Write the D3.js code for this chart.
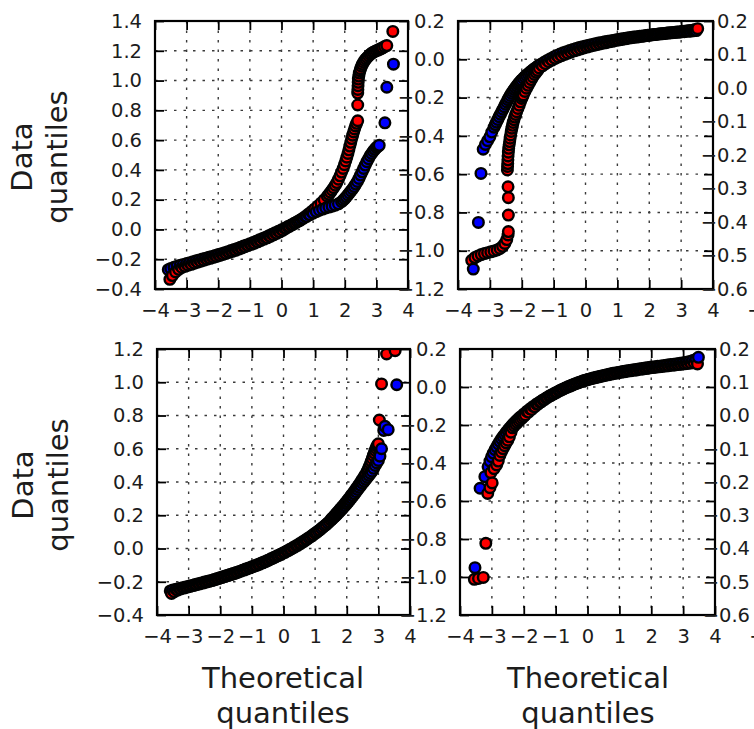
<html>
<head>
<meta charset="utf-8">
<script src="https://d3js.org/d3.v7.min.js"></script>
<style>
  body { margin: 0; background: white; }
  text { font-family: "DejaVu Sans", sans-serif; }
</style>
</head>
<body>
<script>

// ---- data: [theoretical quantile, data quantile] ----

var xTicks = [-4, -3, -2, -1, 0, 1, 2, 3, 4];
var xTicksThird = [-4];
var yTicksTopLeft = [-0.4, -0.2, 0.0, 0.2, 0.4, 0.6, 0.8, 1.0, 1.2, 1.4];
var yTicksBottomLeft = [-0.4, -0.2, 0.0, 0.2, 0.4, 0.6, 0.8, 1.0, 1.2];
var yTicksRight = [0.2, 0.0, -0.2, -0.4, -0.6, -0.8, -1.0, -1.2];
var yTicksThird = [0.2, 0.1, 0.0, -0.1, -0.2, -0.3, -0.4, -0.5, -0.6];

var tlBlue = [[-3.58,-0.27],[-3.5,-0.262],[-3.4,-0.254],[-3.3,-0.247],[-3.2,-0.241],[-3.1,-0.235],[-3.0,-0.229],[-2.9,-0.223],[-2.8,-0.217],[-2.7,-0.211],[-2.6,-0.205],[-2.5,-0.199],[-2.4,-0.193],[-2.3,-0.187],[-2.2,-0.181],[-2.1,-0.175],[-2.0,-0.169],[-1.9,-0.163],[-1.8,-0.156],[-1.7,-0.149],[-1.6,-0.142],[-1.5,-0.135],[-1.4,-0.128],[-1.3,-0.12],[-1.2,-0.112],[-1.1,-0.104],[-1.0,-0.096],[-0.9,-0.088],[-0.8,-0.079],[-0.7,-0.07],[-0.6,-0.061],[-0.5,-0.052],[-0.4,-0.042],[-0.3,-0.032],[-0.2,-0.022],[-0.1,-0.012],[0.0,-0.002],[0.1,0.008],[0.2,0.019],[0.3,0.03],[0.4,0.041],[0.5,0.052],[0.6,0.063],[0.7,0.075],[0.8,0.087],[0.9,0.099],[1.0,0.11],[1.1,0.12],[1.2,0.129],[1.3,0.137],[1.4,0.144],[1.5,0.15],[1.6,0.156],[1.7,0.163],[1.8,0.172],[1.9,0.186],[1.95,0.196],[2.0,0.207],[2.05,0.219],[2.1,0.232],[2.15,0.245],[2.2,0.259],[2.25,0.273],[2.3,0.288],[2.35,0.305],[2.4,0.322],[2.45,0.343],[2.5,0.365],[2.55,0.387],[2.6,0.41],[2.65,0.432],[2.7,0.455],[2.75,0.475],[2.8,0.495],[2.85,0.51],[2.9,0.525],[2.95,0.538],[3.0,0.55],[3.045,0.558],[3.09,0.565],[3.27,0.716],[3.33,0.955],[3.54,1.11]];
var tlRed = [[-3.53,-0.335],[-3.45,-0.31],[-3.35,-0.285],[-3.25,-0.268],[-3.15,-0.255],[-3.05,-0.248],[-2.95,-0.24],[-2.85,-0.234],[-2.75,-0.227],[-2.65,-0.22],[-2.55,-0.213],[-2.45,-0.207],[-2.35,-0.2],[-2.25,-0.194],[-2.15,-0.187],[-2.05,-0.181],[-1.95,-0.175],[-1.85,-0.168],[-1.75,-0.161],[-1.65,-0.154],[-1.55,-0.147],[-1.45,-0.14],[-1.35,-0.132],[-1.25,-0.124],[-1.15,-0.116],[-1.05,-0.108],[-0.95,-0.1],[-0.85,-0.092],[-0.75,-0.083],[-0.65,-0.074],[-0.55,-0.065],[-0.45,-0.056],[-0.35,-0.046],[-0.25,-0.036],[-0.15,-0.026],[-0.05,-0.016],[0.05,-0.005],[0.15,0.008],[0.25,0.02],[0.35,0.032],[0.45,0.045],[0.55,0.058],[0.65,0.072],[0.75,0.087],[0.85,0.103],[0.95,0.12],[1.05,0.138],[1.15,0.157],[1.25,0.177],[1.35,0.199],[1.45,0.223],[1.5,0.236],[1.55,0.25],[1.6,0.265],[1.65,0.28],[1.7,0.297],[1.75,0.315],[1.8,0.337],[1.85,0.36],[1.9,0.385],[1.95,0.41],[1.99,0.435],[2.03,0.46],[2.065,0.485],[2.1,0.51],[2.13,0.535],[2.16,0.56],[2.19,0.585],[2.22,0.61],[2.25,0.633],[2.28,0.655],[2.31,0.675],[2.34,0.695],[2.375,0.713],[2.41,0.73],[2.41,0.836],[2.41,0.916],[2.415,0.94],[2.42,0.965],[2.425,0.988],[2.43,1.01],[2.445,1.03],[2.46,1.05],[2.48,1.066],[2.5,1.08],[2.53,1.096],[2.56,1.11],[2.595,1.123],[2.63,1.135],[2.67,1.145],[2.71,1.155],[2.755,1.165],[2.8,1.175],[2.85,1.183],[2.9,1.19],[2.95,1.195],[3.0,1.2],[3.05,1.205],[3.1,1.21],[3.15,1.215],[3.2,1.22],[3.26,1.228],[3.33,1.235],[3.52,1.33]];

var trBlue = [[-3.52,-1.096],[-3.36,-0.852],[-3.28,-0.596],[-3.21,-0.47],[-3.14,-0.445],[-3.07,-0.425],[-3.0,-0.405],[-2.94,-0.38],[-2.87,-0.355],[-2.83,-0.341],[-2.79,-0.328],[-2.75,-0.314],[-2.71,-0.3],[-2.67,-0.287],[-2.63,-0.274],[-2.59,-0.261],[-2.55,-0.248],[-2.51,-0.235],[-2.47,-0.223],[-2.435,-0.211],[-2.4,-0.2],[-2.36,-0.189],[-2.32,-0.178],[-2.28,-0.168],[-2.24,-0.158],[-2.2,-0.149],[-2.16,-0.14],[-2.12,-0.131],[-2.08,-0.123],[-2.04,-0.115],[-2.0,-0.108],[-1.95,-0.099],[-1.9,-0.091],[-1.85,-0.083],[-1.8,-0.076],[-1.75,-0.069],[-1.7,-0.062],[-1.65,-0.055],[-1.6,-0.049],[-1.55,-0.043],[-1.5,-0.037],[-1.45,-0.031],[-1.4,-0.026],[-1.3,-0.016],[-1.2,-0.006],[-1.1,0.003],[-1.0,0.012],[-0.9,0.02],[-0.8,0.027],[-0.7,0.034],[-0.6,0.04],[-0.5,0.046],[-0.4,0.051],[-0.3,0.056],[-0.2,0.061],[-0.1,0.065],[0.0,0.069],[0.1,0.073],[0.2,0.077],[0.3,0.081],[0.4,0.085],[0.5,0.088],[0.6,0.091],[0.7,0.094],[0.8,0.097],[0.9,0.1],[1.0,0.103],[1.1,0.106],[1.2,0.109],[1.3,0.111],[1.4,0.114],[1.5,0.116],[1.6,0.118],[1.7,0.12],[1.8,0.122],[1.9,0.124],[2.0,0.126],[2.1,0.128],[2.2,0.13],[2.3,0.132],[2.4,0.133],[2.5,0.135],[2.6,0.137],[2.7,0.138],[2.8,0.14],[2.9,0.141],[3.0,0.143],[3.1,0.144],[3.2,0.146],[3.3,0.147],[3.4,0.149],[3.48,0.15]];
var trRed = [[-3.57,-1.05],[-3.47,-1.036],[-3.37,-1.027],[-3.27,-1.02],[-3.17,-1.015],[-3.07,-1.01],[-2.97,-1.006],[-2.87,-1.001],[-2.77,-0.996],[-2.68,-0.988],[-2.6,-0.977],[-2.53,-0.962],[-2.47,-0.942],[-2.43,-0.918],[-2.42,-0.9],[-2.42,-0.814],[-2.42,-0.723],[-2.43,-0.666],[-2.45,-0.578],[-2.445,-0.56],[-2.44,-0.545],[-2.435,-0.525],[-2.43,-0.505],[-2.42,-0.485],[-2.41,-0.465],[-2.395,-0.447],[-2.38,-0.43],[-2.365,-0.412],[-2.35,-0.395],[-2.33,-0.377],[-2.31,-0.36],[-2.29,-0.345],[-2.27,-0.33],[-2.245,-0.316],[-2.22,-0.302],[-2.19,-0.288],[-2.16,-0.274],[-2.12,-0.257],[-2.08,-0.24],[-2.04,-0.222],[-2.0,-0.205],[-1.975,-0.195],[-1.95,-0.186],[-1.9,-0.168],[-1.85,-0.151],[-1.8,-0.136],[-1.75,-0.121],[-1.7,-0.106],[-1.65,-0.092],[-1.6,-0.079],[-1.55,-0.068],[-1.5,-0.058],[-1.45,-0.045],[-1.35,-0.034],[-1.25,-0.023],[-1.15,-0.013],[-1.05,-0.004],[-0.95,0.005],[-0.85,0.012],[-0.75,0.019],[-0.65,0.026],[-0.55,0.032],[-0.45,0.038],[-0.35,0.044],[-0.25,0.049],[-0.15,0.054],[-0.05,0.059],[0.05,0.064],[0.15,0.068],[0.25,0.072],[0.35,0.076],[0.45,0.08],[0.55,0.084],[0.65,0.087],[0.75,0.091],[0.85,0.094],[0.95,0.098],[1.05,0.101],[1.15,0.104],[1.25,0.107],[1.35,0.11],[1.45,0.113],[1.55,0.115],[1.65,0.117],[1.75,0.12],[1.85,0.122],[1.95,0.125],[2.05,0.127],[2.15,0.129],[2.25,0.131],[2.35,0.133],[2.45,0.135],[2.55,0.137],[2.65,0.139],[2.75,0.14],[2.85,0.142],[2.95,0.144],[3.05,0.146],[3.15,0.148],[3.25,0.15],[3.35,0.152],[3.44,0.155],[3.52,0.16]];

var blBlue = [[-3.58,-0.255],[-3.5,-0.25],[-3.4,-0.245],[-3.3,-0.24],[-3.2,-0.236],[-3.1,-0.232],[-3.0,-0.227],[-2.9,-0.222],[-2.8,-0.217],[-2.7,-0.212],[-2.6,-0.207],[-2.5,-0.202],[-2.4,-0.197],[-2.3,-0.192],[-2.2,-0.187],[-2.1,-0.181],[-2.0,-0.175],[-1.9,-0.169],[-1.8,-0.163],[-1.7,-0.157],[-1.6,-0.151],[-1.5,-0.145],[-1.4,-0.138],[-1.3,-0.131],[-1.2,-0.124],[-1.1,-0.117],[-1.0,-0.11],[-0.9,-0.103],[-0.8,-0.095],[-0.7,-0.087],[-0.6,-0.079],[-0.5,-0.071],[-0.4,-0.062],[-0.3,-0.053],[-0.2,-0.044],[-0.1,-0.035],[0.0,-0.025],[0.1,-0.015],[0.2,-0.005],[0.3,0.006],[0.4,0.017],[0.5,0.028],[0.6,0.04],[0.7,0.052],[0.8,0.065],[0.9,0.078],[1.0,0.092],[1.1,0.106],[1.2,0.121],[1.3,0.137],[1.4,0.153],[1.5,0.17],[1.55,0.179],[1.6,0.188],[1.65,0.197],[1.7,0.207],[1.75,0.217],[1.8,0.227],[1.85,0.237],[1.9,0.248],[1.95,0.259],[2.0,0.27],[2.05,0.281],[2.1,0.293],[2.15,0.305],[2.2,0.317],[2.25,0.329],[2.3,0.342],[2.35,0.355],[2.4,0.368],[2.45,0.38],[2.5,0.393],[2.55,0.404],[2.6,0.416],[2.65,0.428],[2.7,0.44],[2.75,0.452],[2.8,0.465],[2.85,0.482],[2.9,0.5],[2.95,0.515],[3.0,0.53],[3.05,0.555],[3.1,0.6],[3.17,0.71],[3.21,0.735],[3.31,0.715],[3.58,0.985]];
var blRed = [[-3.54,-0.27],[-3.45,-0.26],[-3.35,-0.25],[-3.25,-0.243],[-3.15,-0.238],[-3.05,-0.233],[-2.95,-0.228],[-2.85,-0.223],[-2.75,-0.218],[-2.65,-0.213],[-2.55,-0.208],[-2.45,-0.203],[-2.35,-0.198],[-2.25,-0.193],[-2.15,-0.187],[-2.05,-0.181],[-1.95,-0.175],[-1.85,-0.169],[-1.75,-0.163],[-1.65,-0.157],[-1.55,-0.151],[-1.45,-0.144],[-1.35,-0.137],[-1.25,-0.13],[-1.15,-0.123],[-1.05,-0.116],[-0.95,-0.109],[-0.85,-0.102],[-0.75,-0.094],[-0.65,-0.086],[-0.55,-0.078],[-0.45,-0.069],[-0.35,-0.06],[-0.25,-0.051],[-0.15,-0.042],[-0.05,-0.033],[0.05,-0.023],[0.15,-0.013],[0.25,-0.003],[0.35,0.008],[0.45,0.019],[0.55,0.031],[0.65,0.043],[0.75,0.056],[0.85,0.069],[0.95,0.083],[1.05,0.097],[1.15,0.112],[1.25,0.128],[1.35,0.144],[1.45,0.161],[1.5,0.174],[1.55,0.184],[1.6,0.194],[1.65,0.205],[1.7,0.216],[1.75,0.227],[1.8,0.238],[1.85,0.249],[1.9,0.26],[1.95,0.272],[2.0,0.284],[2.05,0.296],[2.1,0.308],[2.15,0.321],[2.2,0.334],[2.25,0.347],[2.3,0.36],[2.35,0.374],[2.4,0.388],[2.45,0.402],[2.5,0.417],[2.55,0.432],[2.6,0.448],[2.65,0.465],[2.685,0.48],[2.72,0.495],[2.75,0.51],[2.78,0.525],[2.81,0.542],[2.84,0.56],[2.87,0.575],[2.9,0.59],[2.925,0.603],[2.95,0.615],[2.975,0.623],[3.0,0.63],[3.03,0.773],[3.1,0.99],[3.26,1.17],[3.53,1.19]];

var brBlue = [[-3.53,-0.951],[-3.37,-0.533],[-3.22,-0.472],[-3.12,-0.42],[-3.06,-0.39],[-3.01,-0.367],[-2.955,-0.348],[-2.9,-0.33],[-2.85,-0.315],[-2.8,-0.3],[-2.75,-0.286],[-2.7,-0.273],[-2.65,-0.261],[-2.6,-0.25],[-2.55,-0.239],[-2.5,-0.228],[-2.45,-0.218],[-2.4,-0.208],[-2.35,-0.199],[-2.3,-0.19],[-2.25,-0.181],[-2.2,-0.173],[-2.15,-0.165],[-2.1,-0.157],[-2.0,-0.142],[-1.9,-0.128],[-1.8,-0.115],[-1.7,-0.102],[-1.6,-0.09],[-1.5,-0.079],[-1.4,-0.068],[-1.3,-0.058],[-1.2,-0.048],[-1.1,-0.039],[-1.0,-0.03],[-0.9,-0.021],[-0.8,-0.013],[-0.7,-0.005],[-0.6,0.002],[-0.5,0.009],[-0.4,0.016],[-0.3,0.022],[-0.2,0.028],[-0.1,0.034],[0.0,0.039],[0.1,0.044],[0.2,0.049],[0.3,0.053],[0.4,0.057],[0.5,0.061],[0.6,0.065],[0.7,0.068],[0.8,0.072],[0.9,0.075],[1.0,0.078],[1.1,0.081],[1.2,0.084],[1.3,0.087],[1.4,0.09],[1.5,0.092],[1.6,0.095],[1.7,0.097],[1.8,0.1],[1.9,0.102],[2.0,0.105],[2.1,0.107],[2.2,0.109],[2.3,0.111],[2.4,0.113],[2.5,0.116],[2.6,0.118],[2.7,0.12],[2.8,0.122],[2.9,0.125],[3.0,0.127],[3.1,0.13],[3.2,0.134],[3.3,0.139],[3.4,0.146],[3.48,0.156]];
var brRed = [[-3.55,-1.012],[-3.42,-1.008],[-3.27,-1.002],[-3.19,-0.823],[-3.13,-0.56],[-3.06,-0.53],[-2.99,-0.505],[-3.03,-0.451],[-2.93,-0.43],[-2.85,-0.41],[-2.8,-0.39],[-2.75,-0.36],[-2.7,-0.342],[-2.65,-0.325],[-2.6,-0.309],[-2.55,-0.294],[-2.5,-0.28],[-2.45,-0.262],[-2.4,-0.238],[-2.35,-0.215],[-2.3,-0.205],[-2.25,-0.196],[-2.2,-0.187],[-2.15,-0.179],[-2.1,-0.171],[-2.05,-0.163],[-2.0,-0.155],[-1.95,-0.147],[-1.85,-0.132],[-1.75,-0.118],[-1.65,-0.104],[-1.55,-0.09],[-1.45,-0.078],[-1.35,-0.066],[-1.25,-0.055],[-1.15,-0.045],[-1.05,-0.036],[-0.95,-0.027],[-0.85,-0.018],[-0.75,-0.01],[-0.65,-0.002],[-0.55,0.005],[-0.45,0.012],[-0.35,0.019],[-0.25,0.025],[-0.15,0.031],[-0.05,0.036],[0.05,0.041],[0.15,0.045],[0.25,0.049],[0.35,0.053],[0.45,0.057],[0.55,0.061],[0.65,0.064],[0.75,0.068],[0.85,0.071],[0.95,0.074],[1.05,0.077],[1.15,0.08],[1.25,0.083],[1.35,0.085],[1.45,0.088],[1.55,0.09],[1.65,0.093],[1.75,0.095],[1.85,0.097],[1.95,0.1],[2.05,0.102],[2.15,0.104],[2.25,0.106],[2.35,0.108],[2.45,0.11],[2.55,0.112],[2.65,0.114],[2.75,0.116],[2.85,0.118],[2.95,0.12],[3.05,0.122],[3.15,0.124],[3.25,0.126],[3.35,0.128],[3.45,0.121]];

// ---- layout ----

var svg = d3.select("body").append("svg")
  .attr("width", 754)
  .attr("height", 729);

var tickFont = 19.5;
var labelFont = 29;
var textColor = "#1c1c1c";

var panels = [
  {id: "tl", x0: 155, x1: 408, y0: 21, y1: 289, xt: xTicks, yTicks: yTicksTopLeft, blue: tlBlue, red: tlRed},
  {id: "tr", x0: 458, x1: 713, y0: 21, y1: 289, xt: xTicks, yTicks: yTicksRight, blue: trBlue, red: trRed},
  {id: "t3", x0: 761, x1: 1014, y0: 21, y1: 289, xt: xTicksThird, yTicks: yTicksThird, blue: [], red: []},
  {id: "bl", x0: 157, x1: 410, y0: 349, y1: 615, xt: xTicks, yTicks: yTicksBottomLeft, blue: blBlue, red: blRed},
  {id: "br", x0: 460, x1: 715, y0: 349, y1: 615, xt: xTicks, yTicks: yTicksRight, blue: brBlue, red: brRed},
  {id: "b3", x0: 763, x1: 1016, y0: 349, y1: 615, xt: xTicksThird, yTicks: yTicksThird, blue: [], red: []}
];

var fmtY = d3.format(".1f");
var fmtX = d3.format("d");

var styleAxis = function(g) {
  g.select(".domain").remove();
  g.selectAll(".tick line").attr("stroke", "#000").attr("stroke-width", 1.8);
  g.selectAll(".tick text")
    .attr("fill", textColor)
    .style("font-size", tickFont + "px")
    .style("font-family", "DejaVu Sans");
};

var drawPanel = function(p) {
  var x = d3.scaleLinear().domain([-4, 4]).range([p.x0, p.x1]);
  var y = d3.scaleLinear().domain(d3.extent(p.yTicks)).range([p.y1, p.y0]);

  // dotted grid
  var grid = svg.append("g")
    .attr("stroke", "#3a3a3a")
    .attr("stroke-width", 1.4)
    .attr("stroke-dasharray", "2.5,7");
  grid.selectAll(".gx").data(xTicks.slice(1, -1)).enter().append("line")
    .attr("x1", function(d) { return x(d); }).attr("x2", function(d) { return x(d); })
    .attr("y1", p.y0).attr("y2", p.y1);
  grid.selectAll(".gy").data(p.yTicks.filter(function(d) {
      return y(d) > p.y0 + 1 && y(d) < p.y1 - 1; })).enter().append("line")
    .attr("y1", function(d) { return y(d); }).attr("y2", function(d) { return y(d); })
    .attr("x1", p.x0).attr("x2", p.x1);

  // points, clipped to the axes box; both series drawn in order of x
  svg.append("clipPath").attr("id", "clip-" + p.id)
    .append("rect")
    .attr("x", p.x0).attr("y", p.y0)
    .attr("width", p.x1 - p.x0).attr("height", p.y1 - p.y0);

  var pts = p.blue.map(function(d) { return {q: d[0], v: d[1], c: "#0000ff"}; })
    .concat(p.red.map(function(d) { return {q: d[0], v: d[1], c: "#ff0000"}; }));
  pts.sort(function(a, b) { return a.q - b.q; });

  svg.append("g").attr("clip-path", "url(#clip-" + p.id + ")")
    .selectAll("circle").data(pts).enter().append("circle")
    .attr("cx", function(d) { return x(d.q); })
    .attr("cy", function(d) { return y(d.v); })
    .attr("r", 5.3)
    .attr("fill", function(d) { return d.c; })
    .attr("stroke", "#000")
    .attr("stroke-width", 2.4);

  // ticks inward on all four sides
  svg.append("g").attr("transform", "translate(" + p.x0 + ",0)")
    .call(d3.axisLeft(y).tickValues(p.yTicks).tickFormat(fmtY).tickSize(-9).tickPadding(13))
    .call(styleAxis);
  svg.append("g").attr("transform", "translate(" + p.x1 + ",0)")
    .call(d3.axisRight(y).tickValues(p.yTicks).tickFormat("").tickSize(-9))
    .call(styleAxis);
  svg.append("g").attr("transform", "translate(0," + p.y1 + ")")
    .call(d3.axisBottom(x).tickValues(p.xt).tickFormat(fmtX).tickSize(-9).tickPadding(11))
    .call(styleAxis)
    .selectAll(".tick text").attr("dy", "0.85em");
  svg.append("g").attr("transform", "translate(0," + p.y0 + ")")
    .call(d3.axisTop(x).tickValues(p.xt).tickFormat("").tickSize(-9))
    .call(styleAxis);

  // frame
  svg.append("rect")
    .attr("x", p.x0).attr("y", p.y0)
    .attr("width", p.x1 - p.x0).attr("height", p.y1 - p.y0)
    .attr("fill", "none")
    .attr("stroke", "#000")
    .attr("stroke-width", 2.2);
};

panels.forEach(drawPanel);

// axis titles
var title = function(lines, tx, ty, rotate) {
  var t = svg.append("text")
    .attr("transform", "translate(" + tx + "," + ty + ")" + (rotate ? " rotate(-90)" : ""))
    .attr("text-anchor", "middle")
    .attr("fill", textColor)
    .style("font-size", labelFont + "px");
  lines.forEach(function(s, i) {
    t.append("tspan").attr("x", 0).attr("y", i * 35).text(s);
  });
};

title(["Data", "quantiles"], 32, 157, true);
title(["Data", "quantiles"], 33, 485, true);
title(["Theoretical", "quantiles"], 283, 688, false);
title(["Theoretical", "quantiles"], 588, 688, false);

</script>
</body>
</html>
